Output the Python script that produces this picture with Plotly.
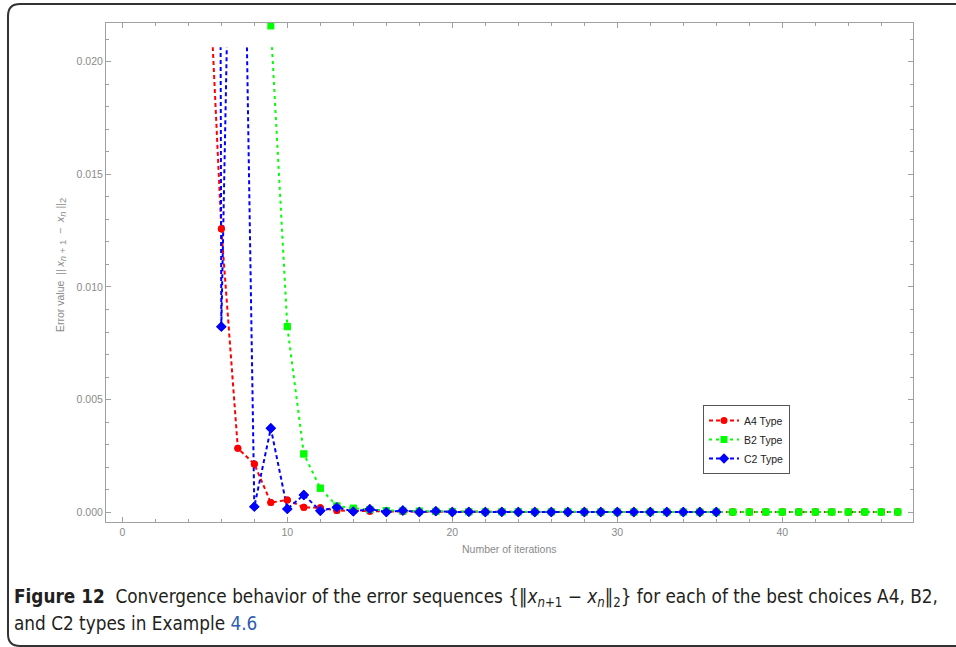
import plotly.graph_objects as go

W, H = 956, 647

# ---------------- data ----------------
a4_x = list(range(5, 48))
a4_y = [0.0281, 0.01259, 0.00284, 0.00214, 0.00043, 0.00055, 0.00022, 0.00020, 0.00008,
        0.00006, 0.00005, 0.00004, 0.00003, 0.00003, 0.00002, 0.00002, 0.00002, 0.00002,
        0.00002, 0.00001, 0.00001, 0.00001, 0.00001, 0.00001, 0.00001, 0.00001, 0.00001,
        0.00001, 0.00001, 0.00001, 0.00001, 0.00001, 0.00001, 0.00001, 0.00001, 0.00001,
        0.00001, 0.00001, 0.00001, 0.00001, 0.00001, 0.00001, 0.00001]

b2_x = list(range(9, 48))
b2_y = [0.02158, 0.00824, 0.00259, 0.00107, 0.00028, 0.00018, 0.00012, 0.00008, 0.00006,
        0.00005, 0.00004, 0.00003, 0.00002, 0.00002, 0.00002, 0.00002, 0.00002, 0.00002,
        0.00002, 0.00001, 0.00001, 0.00001, 0.00001, 0.00001, 0.00001, 0.00001, 0.00001,
        0.00001, 0.00001, 0.00001, 0.00001, 0.00001, 0.00001, 0.00001, 0.00001, 0.00001,
        0.00001, 0.00001, 0.00001]

c2_x = list(range(5, 37))
c2_y = [0.30, 0.00824, 0.0458, 0.00025, 0.00373, 0.00015, 0.00077, 0.00007, 0.00022,
        0.00004, 0.00014, 0.00001, 0.00008, 0.00001, 0.00005, 0.00001, 0.00002, 0.00001,
        0.00002, 0.00001, 0.00001, 0.00001, 0.00001, 0.00001, 0.00001, 0.00001, 0.00001,
        0.00001, 0.00001, 0.00001, 0.00001, 0.00001]

series_names = ["A4 Type", "B2 Type", "C2 Type"]
x_ticks = [0, 10, 20, 30, 40]
y_ticks = [0.000, 0.005, 0.010, 0.015, 0.020]

# ---------------- layout helpers ----------------
def px(x):
    return x / W

def py(y):
    return 1 - y / H

x_range = [-0.99, 47.94]
y_range = [-0.000444, 0.02173]
y_clip = 0.02064  # plot-range clip level of the lines

dom_x = [px(106), px(913.3)]
dom_y = [py(522.3), py(22.7)]
dom_clip_top = dom_y[0] + (y_clip - y_range[0]) / (y_range[1] - y_range[0]) * (dom_y[1] - dom_y[0])

gray = "#8a8a8a"
frame = "#a0a0a0"
sans = "Liberation Sans, Arial, sans-serif"
tickfont = dict(family=sans, size=10.5, color=gray)

fig = go.Figure()

dash = "4px,3px"
styles = [
    (a4_x, a4_y, "#ff0000", "circle", 7, "4px,3px"),
    (b2_x, b2_y, "#00ff00", "square", 7, "3px,4px"),
    (c2_x, c2_y, "#0000ff", "diamond", 8, "4px,3px"),
]

# lines (clipped at the plot range, like the original)
for name, (xs, ys, col, sym, sz, dsh) in zip(series_names, styles):
    fig.add_trace(go.Scatter(x=xs, y=ys, name=name, legendgroup=name, mode="lines+markers",
                             line=dict(color=col, width=2, dash=dsh),
                             marker=dict(symbol=sym, size=sz, color=col),
                             xaxis="x", yaxis="y"))
# markers on the full frame (so points in the padding band stay visible)
for name, (xs, ys, col, sym, sz, dsh) in zip(series_names, styles):
    fig.add_trace(go.Scatter(x=xs, y=ys, name=name, legendgroup=name, mode="markers",
                             showlegend=False,
                             marker=dict(symbol=sym, size=sz, color=col),
                             xaxis="x", yaxis="y2"))

fig.update_layout(
    width=W, height=H,
    margin=dict(l=0, r=0, t=0, b=0),
    paper_bgcolor="white", plot_bgcolor="rgba(0,0,0,0)",
    showlegend=True,
    legend=dict(x=px(703), y=py(405), xanchor="left", yanchor="top",
                bordercolor="#555555", borderwidth=1, bgcolor="white",
                font=dict(family=sans, size=10.5, color="#222222"),
                itemwidth=30, tracegroupgap=0),
    xaxis=dict(domain=dom_x, range=x_range, anchor="y2", showgrid=False, zeroline=False,
               showline=True, linecolor=frame, linewidth=1, mirror="ticks",
               ticks="inside", ticklen=5, tickcolor=frame, tickwidth=1,
               tickvals=x_ticks, ticktext=[str(v) for v in x_ticks], tickfont=tickfont,
               minor=dict(ticks="inside", ticklen=3, tickcolor=frame, dtick=2, tick0=0, showgrid=False)),
    yaxis=dict(domain=[dom_y[0], dom_clip_top], range=[y_range[0], y_clip], anchor="x",
               visible=False, showgrid=False, zeroline=False),
    yaxis2=dict(domain=dom_y, range=y_range, anchor="x", showgrid=False, zeroline=False,
                showline=True, linecolor=frame, linewidth=1, mirror="ticks",
                ticks="inside", ticklen=5, tickcolor=frame, tickwidth=1,
                tickvals=y_ticks, ticktext=[f"{v:.3f}" for v in y_ticks], tickfont=tickfont,
                minor=dict(ticks="inside", ticklen=3, tickcolor=frame, dtick=0.001, tick0=0, showgrid=False)),
)

# axis titles
fig.add_annotation(x=px(509.5), y=py(549), xref="paper", yref="paper", showarrow=False,
                   xanchor="center", yanchor="middle",
                   text="Number of iterations", font=dict(family=sans, size=10.5, color=gray))
sub = "<sub><span style='font-size:9.5px'>{}</span></sub>"
ytitle = ("Error value  || <i>x</i>" + sub.format("<i>n</i> + 1") + "  −  <i>x</i>"
          + sub.format("<i>n</i>") + " ||" + sub.format("2"))
fig.add_annotation(x=px(61), y=py(265), xref="paper", yref="paper", showarrow=False, textangle=-90,
                   xanchor="center", yanchor="middle",
                   text=ytitle, font=dict(family=sans, size=10.5, color=gray))

# caption
capfont = dict(family="Liberation Sans Narrow, DejaVu Sans Condensed, sans-serif", size=18.8, color="#231f20")
fig.add_annotation(x=px(12), y=py(598), xref="paper", yref="paper", showarrow=False,
                   xanchor="left", yanchor="middle",
                   text="<b>Figure 12</b>  Convergence behavior of the error sequences {‖<i>x</i><sub><i>n</i>+1</sub> − <i>x</i><sub><i>n</i></sub>‖<sub>2</sub>} for each of the best choices A4, B2,",
                   font=capfont)
fig.add_annotation(x=px(12), y=py(623), xref="paper", yref="paper", showarrow=False,
                   xanchor="left", yanchor="middle",
                   text="and C2 types in Example <span style='color:#2a5db0'>4.6</span>",
                   font=capfont)

# outer rounded border (open on the right)
fig.add_shape(type="path", xref="paper", yref="paper",
              path=(f"M {px(960)},{py(4)} L {px(20)},{py(4)} Q {px(8)},{py(4)} {px(8)},{py(16)} "
                    f"L {px(8)},{py(634)} Q {px(8)},{py(646)} {px(20)},{py(646)} L {px(960)},{py(646)}"),
              line=dict(color="#333333", width=2))

fig.write_html("out.html")
